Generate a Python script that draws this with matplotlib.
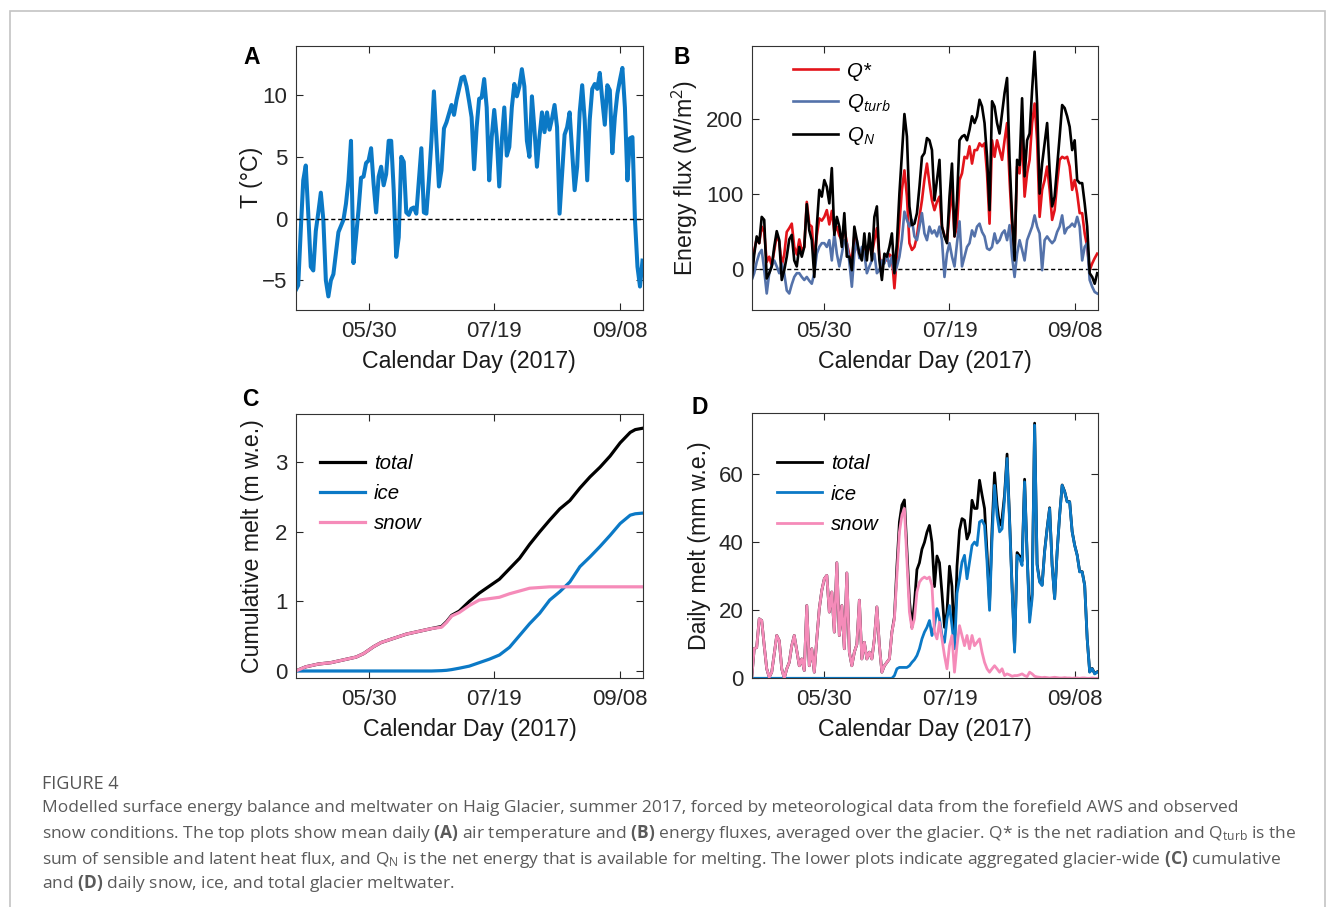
import numpy as np
import matplotlib
matplotlib.use('Agg')
import matplotlib.pyplot as plt
from matplotlib.patches import Rectangle

plt.rcParams['font.family'] = ['Liberation Sans', 'DejaVu Sans']
plt.rcParams['mathtext.fontset'] = 'custom'
plt.rcParams['mathtext.rm'] = 'Open Sans'
plt.rcParams['mathtext.bf'] = 'Open Sans:bold'
plt.rcParams['mathtext.it'] = 'Open Sans:italic'

# ---- data (day of year 2017) ----
days = np.arange(121, 260)
tick_days = [150, 200, 250]
tick_labels = ['05/30', '07/19', '09/08']

temp = [-5.8, -5.4, -1.0, 3.1, 4.3, 0.4, -3.9, -4.2, -1.0, 0.5,
        2.1, -0.1, -5.0, -6.3, -5.0, -4.5, -2.8, -1.1, -0.6, -0.1,
        1.2, 3.1, 6.3, -3.6, -1.5, 0.7, 3.3, 3.4, 4.5, 4.7,
        5.7, 2.8, 0.5, 3.4, 4.2, 2.7, 3.6, 6.3, 6.3, 2.3,
        -3.1, -1.5, 5.0, 4.6, 0.5, 0.3, 0.8, 0.9, 0.4, 3.1,
        5.7, 0.5, 0.4, 3.1, 6.3, 10.3, 6.3, 2.6, 3.9, 7.3,
        7.8, 8.5, 9.2, 8.4, 9.6, 10.5, 11.4, 11.5, 10.7, 9.5,
        8.2, 4.0, 7.4, 9.7, 9.8, 11.3, 9.0, 3.1, 6.6, 8.8,
        6.6, 2.6, 6.3, 9.0, 5.1, 5.8, 9.0, 10.9, 9.9, 10.7,
        12.1, 10.7, 6.3, 5.0, 9.9, 7.2, 4.2, 6.6, 8.6, 7.0,
        8.6, 7.2, 8.1, 9.2, 7.4, 0.4, 3.6, 6.8, 7.4, 8.6,
        5.5, 2.3, 4.2, 8.6, 10.8, 8.0, 3.1, 8.0, 10.5, 10.9,
        10.5, 11.8, 9.6, 7.6, 10.8, 10.4, 5.3, 8.2, 10.1, 11.2,
        12.2, 9.0, 3.1, 6.5, 6.6, -0.1, -3.9, -5.5, -3.4]

q_star = [-5, 25, 41, 35, 57, 50, 10, 17, 5, 25,
          45, 37, 5, 20, 50, 55, 61, 30, 20, 40,
          25, 30, 90, 60, 57, 10, 45, 68, 65, 70,
          79, 60, 78, 50, 57, 45, 39, 55, 35, 20,
          12, 45, 30, 20, 17, 35, 20, 35, 20, 39,
          55, 17, 4, 15, 12, 20, 17, -25, 17, 61,
          106, 132, 97, 35, 26, 30, 44, 70, 92, 120,
          141, 115, 92, 79, 90, 97, 57, 45, 37, 75,
          110, 44, 57, 119, 128, 150, 148, 164, 141, 159,
          159, 168, 164, 168, 128, 61, 172, 150, 172, 159,
          146, 172, 195, 119, 57, 26, 137, 128, 181, 97,
          128, 146, 195, 221, 172, 70, 106, 119, 137, 106,
          66, 79, 115, 146, 150, 148, 150, 137, 106, 119,
          101, 75, 75, 48, 30, -1, 8, 15, 21]

q_turb = [-14, -5, 10, 21, 26, -1, -32, -5, 5, 12,
          4, -5, 8, -5, -28, -32, -20, -10, -5, -5,
          -10, -14, -10, -15, -19, -5, 21, 30, 35, 35,
          30, 39, 12, 48, 21, 4, 21, 39, 35, 10,
          -23, 21, 39, 15, 30, 21, -5, 4, 12, 21,
          -5, -1, 12, 8, 21, 4, 17, -5, 4, 17,
          40, 77, 66, 57, 66, 44, 39, 57, 75, 48,
          39, 57, 48, 52, 44, 57, 39, -10, 21, 35,
          17, 4, 35, 64, 4, 17, 30, 35, 52, 44,
          57, 61, 50, 44, 28, 26, 30, 48, 35, 39,
          48, 52, 39, 59, 17, -10, 21, 39, 26, 12,
          39, 48, 57, 72, 57, 48, -1, 39, 44, 39,
          35, 39, 50, 57, 72, 48, 55, 57, 61, 57,
          70, 57, 12, 30, 35, -14, -23, -30, -32]

q_n = [-14, 20, 44, 35, 70, 66, -12, -5, 4, 30,
       51, 39, -14, -1, 17, 40, 46, 12, 4, 30,
       17, 30, 87, 52, 39, -10, 57, 106, 97, 119,
       110, 88, 135, 46, 70, 57, 30, 75, 17, 17,
       -1, 57, 39, 21, 12, 48, 12, 48, 12, 70,
       84, 12, -14, 21, 17, 30, 48, -5, 35, 101,
       155, 207, 177, 84, 59, 61, 75, 110, 150, 155,
       175, 172, 159, 92, 119, 146, 57, 44, 35, 97,
       141, 44, 92, 172, 177, 179, 172, 186, 204, 195,
       204, 226, 217, 195, 150, 79, 224, 217, 195, 181,
       208, 235, 255, 146, 70, 12, 146, 139, 228, 124,
       172, 181, 239, 290, 221, 101, 141, 168, 195, 132,
       84, 97, 137, 177, 219, 215, 204, 190, 159, 172,
       119, 115, 115, 88, 57, -5, -10, -19, -5]

# cumulative melt (m w.e.), read at selected days
cum_days = [121, 125, 130, 135, 140, 145, 148, 150, 152, 155, 160, 165, 170,
            175, 179, 181, 183, 186, 190, 194, 198, 202, 206, 210, 214, 218,
            222, 226, 230, 234, 238, 242, 246, 250, 254, 256, 259]
cum_total = [0.00, 0.06, 0.10, 0.12, 0.16, 0.20, 0.25, 0.30, 0.35, 0.41, 0.47,
             0.53, 0.57, 0.61, 0.64, 0.71, 0.80, 0.86, 1.00, 1.12, 1.22, 1.32,
             1.47, 1.62, 1.82, 2.00, 2.17, 2.33, 2.45, 2.63, 2.79, 2.93, 3.09,
             3.28, 3.43, 3.47, 3.49]
cum_ice = [0.00, 0.00, 0.00, 0.00, 0.00, 0.00, 0.00, 0.00, 0.00, 0.00, 0.00,
           0.00, 0.00, 0.00, 0.005, 0.01, 0.02, 0.04, 0.07, 0.12, 0.17, 0.23,
           0.34, 0.51, 0.68, 0.83, 1.02, 1.14, 1.28, 1.50, 1.64, 1.79, 1.95,
           2.12, 2.24, 2.26, 2.27]
cum_snow = [0.00, 0.06, 0.10, 0.12, 0.16, 0.20, 0.25, 0.30, 0.35, 0.41, 0.47,
            0.53, 0.57, 0.61, 0.63, 0.70, 0.79, 0.84, 0.94, 1.02, 1.04, 1.06,
            1.11, 1.15, 1.19, 1.20, 1.21, 1.21, 1.21, 1.21, 1.21, 1.21, 1.21,
            1.21, 1.21, 1.21, 1.21]

# daily melt (mm w.e.)
melt_snow = [0.0, 8.7, 9.1, 17.5, 17.0, 9.6, 2.8, 0.3, 1.8, 7.2,
             12.6, 11.1, 2.8, 0.0, 2.8, 4.7, 9.6, 12.6, 8.2, 3.7,
             5.7, 2.3, 21.4, 3.7, 8.7, 1.8, 11.6, 20.5, 25.9, 29.3,
             30.3, 19.5, 25.4, 13.6, 34.0, 12.6, 21.4, 8.7, 31.0, 7.7,
             3.7, 7.7, 10.0, 23.0, 5.7, 10.6, 5.7, 7.7, 5.7, 11.6,
             21.0, 9.6, 1.8, 3.7, 4.7, 5.7, 13.6, 17.5, 30.0, 43.0,
             48.0, 50.0, 35.0, 19.5, 14.6, 17.5, 25.4, 28.3, 29.3, 29.8,
             29.3, 29.8, 27.3, 13.6, 11.6, 16.5, 11.6, 6.7, 2.8, 9.6,
             12.6, 1.8, 9.6, 15.5, 12.6, 9.6, 12.6, 8.7, 12.6, 9.6,
             10.6, 11.6, 7.7, 4.7, 2.8, 1.8, 2.8, 3.7, 2.8, 1.8,
             2.8, 0.8, 1.3, 1.0, 0.6, 0.8, 0.8, 1.0, 1.3, 0.8,
             0.5, 1.8, 1.3, 0.6, 0.4, 0.3, 0.2, 0.3, 0.2, 0.1,
             0.2, 0.3, 0.2, 0.1, 0.1, 0.2, 0.1, 0.1, 0.0, 0.1,
             0.1, 0.0, 0.1, 0.1, 0.0, 0.0, 0.1, 0.0, 0.0]

melt_ice = [0.0, 0.0, 0.0, 0.0, 0.0, 0.0, 0.0, 0.0, 0.0, 0.0,
            0.0, 0.0, 0.0, 0.0, 0.0, 0.0, 0.0, 0.0, 0.0, 0.0,
            0.0, 0.0, 0.0, 0.0, 0.0, 0.0, 0.0, 0.0, 0.0, 0.0,
            0.0, 0.0, 0.0, 0.0, 0.0, 0.0, 0.0, 0.0, 0.0, 0.0,
            0.0, 0.0, 0.0, 0.0, 0.0, 0.0, 0.0, 0.0, 0.0, 0.0,
            0.0, 0.0, 0.0, 0.0, 0.0, 0.0, 0.0, 0.8, 2.8, 3.2,
            3.2, 3.2, 3.2, 3.7, 4.7, 5.5, 6.7, 8.7, 11.6, 13.6,
            15.0, 17.0, 12.6, 15.5, 20.5, 17.5, 12.6, 10.6, 17.5, 21.4,
            15.5, 8.7, 25.0, 29.3, 34.2, 36.2, 29.3, 34.2, 39.1, 40.1,
            39.1, 46.0, 46.5, 45.0, 34.2, 20.0, 41.1, 56.8, 48.0, 43.1,
            44.0, 52.9, 64.7, 46.0, 26.4, 7.7, 36.2, 35.2, 33.2, 57.8,
            36.2, 16.5, 23.4, 74.5, 33.2, 28.3, 27.3, 37.2, 44.0, 50.0,
            33.2, 23.4, 37.2, 48.0, 56.8, 54.9, 51.9, 51.9, 43.1, 39.1,
            36.2, 31.3, 31.3, 27.3, 11.6, 1.8, 2.8, 1.3, 1.8]

melt_total = [0.0, 8.7, 9.1, 17.5, 17.0, 9.6, 2.8, 0.3, 1.8, 7.2,
              12.6, 11.1, 2.8, 0.0, 2.8, 4.7, 9.6, 12.6, 8.2, 3.7,
              5.7, 2.3, 21.4, 3.7, 8.7, 1.8, 11.6, 20.5, 25.9, 29.3,
              30.3, 19.5, 25.4, 13.6, 34.0, 12.6, 21.4, 8.7, 31.0, 7.7,
              3.7, 7.7, 10.0, 23.0, 5.7, 10.6, 5.7, 7.7, 5.7, 11.6,
              21.0, 9.6, 1.8, 3.7, 4.7, 5.7, 13.6, 18.0, 33.0, 46.0,
              51.0, 52.5, 38.0, 23.0, 15.0, 22.0, 32.0, 34.0, 38.0, 40.0,
              43.0, 45.0, 40.0, 27.0, 36.0, 34.0, 25.0, 15.0, 19.5, 33.0,
              27.0, 9.6, 33.0, 43.6, 47.0, 46.5, 41.0, 43.0, 52.4, 50.0,
              50.0, 58.3, 54.0, 50.0, 37.0, 22.0, 44.0, 60.5, 51.0, 45.0,
              47.0, 54.0, 66.0, 47.0, 27.0, 8.5, 37.0, 36.0, 34.5, 58.6,
              36.7, 18.3, 24.7, 75.1, 33.6, 28.6, 27.5, 37.5, 44.2, 50.2,
              33.4, 23.5, 37.3, 48.1, 56.9, 55.0, 52.0, 52.0, 43.2, 39.2,
              36.3, 31.4, 31.4, 27.4, 11.7, 1.9, 2.9, 1.4, 1.9]

W, H = 1335, 907
fig = plt.figure(figsize=(W / 100, H / 100), dpi=100)


def px_axes(left, top, right, bottom):
    return fig.add_axes([left / W, 1 - bottom / H, (right - left) / W, (bottom - top) / H])


def style(ax, ylab, ylab_x):
    ax.set_xlim(121, 259.2)
    ax.set_xticks(tick_days)
    ax.set_xticklabels(tick_labels)
    ax.tick_params(direction='in', top=True, right=True, length=5, width=0.8,
                   labelsize=16, colors='#262626', pad=8)
    ax.tick_params(axis='y', pad=6)
    for s in ax.spines.values():
        s.set_color('#333333')
        s.set_linewidth(0.8)
    ax.set_xlabel('Calendar Day (2017)', fontsize=16.7, color='#1a1a1a')
    ax.xaxis.set_label_coords(0.5, -0.15)
    ax.set_ylabel(ylab, fontsize=16.7, color='#1a1a1a')
    ax.yaxis.set_label_coords(ylab_x, 0.5)


# A: air temperature
ax_a = px_axes(295.7, 45.7, 643, 310)
ax_a.plot(days, temp, color='#0b79c6', lw=2.9)
ax_a.axhline(0, color='black', ls='--', lw=1, dashes=(3, 2))
ax_a.set_ylim(-7.4, 14)
ax_a.set_yticks([-5, 0, 5, 10])
ax_a.set_yticklabels(['\u22125', '0', '5', '10'])
style(ax_a, 'T (\u00b0C)', -0.095)

# B: energy fluxes
ax_b = px_axes(751.7, 45.7, 1097.7, 310)
ax_b.axhline(0, color='black', ls='--', lw=1, dashes=(3, 2))
ax_b.plot(days, q_star, color='#e3141b', lw=1.9, label='Q*')
ax_b.plot(days, q_turb, color='#5472aa', lw=1.9, label=r'Q$_{\mathit{turb}}$')
ax_b.plot(days, q_n, color='black', lw=1.9, label=r'Q$_{\mathit{N}}$')
ax_b.set_ylim(-54, 298)
ax_b.set_yticks([0, 100, 200])
style(ax_b, r'Energy flux (W/m$^2$)', -0.15)
ax_b.legend(loc='upper left', bbox_to_anchor=(0.119, 0.94), frameon=False,
            prop={'style': 'italic', 'size': 14.7}, handlelength=2.2,
            handletextpad=0.45, labelspacing=0.55, borderpad=0, borderaxespad=0)

# C: cumulative melt
ax_c = px_axes(295.7, 414.3, 643.3, 678.3)
ax_c.plot(cum_days, cum_total, color='black', lw=2.3, label='total')
ax_c.plot(cum_days, cum_ice, color='#0b79c6', lw=2.3, label='ice')
ax_c.plot(cum_days, cum_snow, color='#f58bb9', lw=2.3, label='snow')
ax_c.set_ylim(-0.105, 3.69)
ax_c.set_yticks([0, 1, 2, 3])
style(ax_c, 'Cumulative melt (m w.e.)', -0.09)
ax_c.legend(loc='upper left', bbox_to_anchor=(0.07, 0.85), frameon=False,
            prop={'style': 'italic', 'size': 14.7}, handlelength=2.2,
            handletextpad=0.45, labelspacing=0.55, borderpad=0, borderaxespad=0)

# D: daily melt
ax_d = px_axes(751.7, 413.3, 1097.7, 678.3)
ax_d.plot(days, melt_total, color='black', lw=2.0, label='total')
ax_d.plot(days, melt_ice, color='#0b79c6', lw=2.0, label='ice')
ax_d.plot(days, melt_snow, color='#f58bb9', lw=2.0, label='snow')
ax_d.set_ylim(0, 78)
ax_d.set_yticks([0, 20, 40, 60])
style(ax_d, 'Daily melt (mm w.e.)', -0.118)
ax_d.legend(loc='upper left', bbox_to_anchor=(0.072, 0.845), frameon=False,
            prop={'style': 'italic', 'size': 14.7}, handlelength=2.2,
            handletextpad=0.45, labelspacing=0.55, borderpad=0, borderaxespad=0)

# panel letters
for letter, x, y in [('A', 252, 57), ('B', 682, 57), ('C', 250, 400), ('D', 700, 408)]:
    fig.text(x / W, 1 - y / H, letter, fontsize=16.5, fontweight='bold',
             ha='center', va='center', color='black')

# outer frame
fig.add_artist(Rectangle((9.5 / W, -0.05), (1325 - 9.5) / W, 1 - 11.5 / H + 0.05,
                         transform=fig.transFigure, fill=False, ec='#c4c4c4', lw=1.2))

# caption
cap_kw = dict(fontsize=12.5, family='Open Sans', color='#5a5a5a', va='center_baseline')
fig.text(42 / W, 1 - 782 / H, 'FIGURE 4', fontsize=13, family='Open Sans',
         color='#555555', va='center_baseline')
cap_lines = [
    'Modelled surface energy balance and meltwater on Haig Glacier, summer 2017, forced by '
    'meteorological data from the forefield AWS and observed',
    r'snow conditions. The top plots show mean daily $\mathbf{(A)}$ air temperature and '
    r'$\mathbf{(B)}$ energy fluxes, averaged over the glacier. Q* is the net radiation and '
    r'Q$_{\mathrm{turb}}$ is the',
    r'sum of sensible and latent heat flux, and Q$_{\mathrm{N}}$ is the net energy that is '
    r'available for melting. The lower plots indicate aggregated glacier-wide $\mathbf{(C)}$ cumulative',
    r'and $\mathbf{(D)}$ daily snow, ice, and total glacier meltwater.',
]
for line, y in zip(cap_lines, [806, 831, 856, 880]):
    fig.text(42 / W, 1 - y / H, line, **cap_kw)

fig.savefig('out.png', dpi=100)
